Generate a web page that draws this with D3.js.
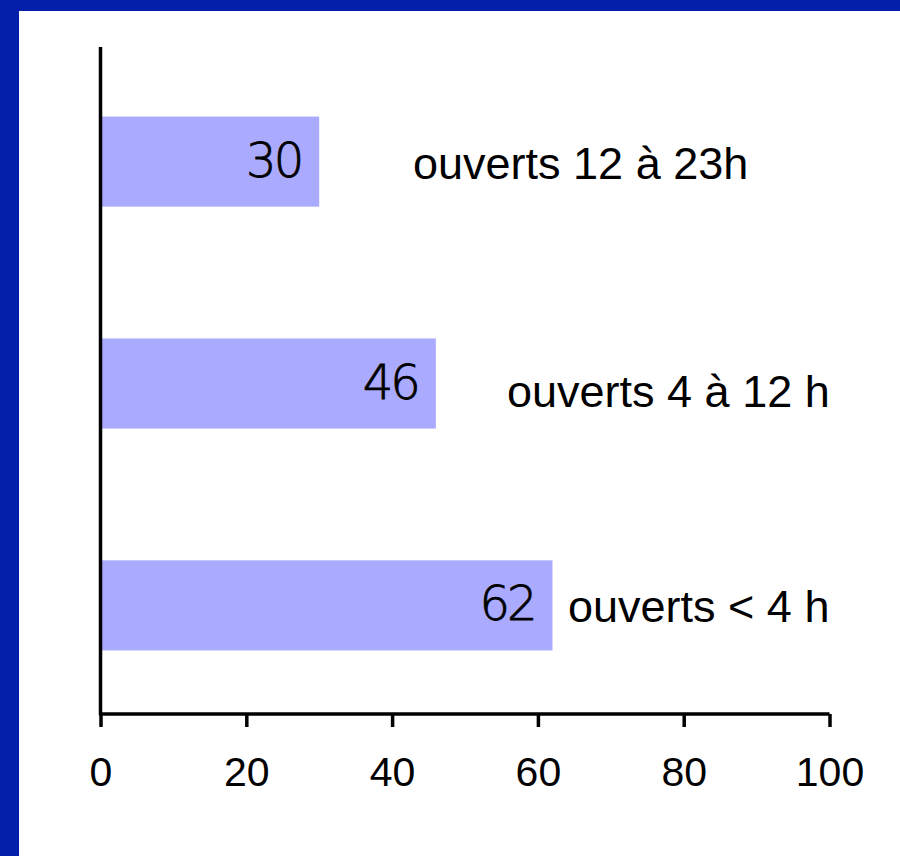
<!DOCTYPE html>
<html>
<head>
<meta charset="utf-8">
<script src="https://cdn.jsdelivr.net/npm/d3@7"></script>
<style>
  html, body { margin: 0; padding: 0; background: #ffffff; }
  #root { width: 900px; height: 856px; }
</style>
</head>
<body>
<div id="root"></div>
<script>
const categories = ['ouverts 12 à 23h', 'ouverts 4 à 12 h', 'ouverts < 4 h'];
const values = [30, 46, 62];
const tickValues = [0, 20, 40, 60, 80, 100];

const width = 900;
const height = 856;
const frameColor = '#0420aa';
const barColor = '#aaaaff';
// where each category label starts, in pixels, and its baseline offset
const labelStartX = [413, 507, 568];
const labelDy = [17, 23, 17];

const svg = d3.select('#root')
  .append('svg')
  .attr('width', width)
  .attr('height', height);

// blue frame, left and top
svg.append('rect')
  .attr('width', width)
  .attr('height', height)
  .attr('fill', frameColor);
svg.append('rect')
  .attr('x', 19)
  .attr('y', 11)
  .attr('width', width - 19)
  .attr('height', height - 11)
  .attr('fill', '#ffffff');

const x = d3.scaleLinear()
  .domain([0, 100])
  .range([100.5, 829.5]);

const y = d3.scaleBand()
  .domain(categories)
  .range([50, 717])
  .paddingInner(0.594)
  .paddingOuter(0.3);

svg.selectAll('.bar')
  .data(values)
  .enter()
  .append('rect')
  .attr('class', 'bar')
  .attr('x', x(0))
  .attr('y', (_d, i) => y(categories[i]))
  .attr('width', (d) => x(d) - x(0))
  .attr('height', y.bandwidth())
  .attr('fill', barColor);

svg.selectAll('.value')
  .data(values)
  .enter()
  .append('text')
  .attr('class', 'value')
  .attr('x', (d) => x(d) - 18)
  .attr('y', (_d, i) => y(categories[i]) + y.bandwidth() / 2 + 15)
  .attr('text-anchor', 'end')
  .attr('font-family', '"DejaVu Sans", sans-serif')
  .attr('font-weight', 200)
  .attr('font-size', '48px')
  .attr('letter-spacing', '-3px')
  .attr('fill', '#000')
  .attr('stroke', '#000')
  .attr('stroke-width', 0.8)
  .text((d) => d);

svg.selectAll('.label')
  .data(categories)
  .enter()
  .append('text')
  .attr('class', 'label')
  .attr('x', (_d, i) => labelStartX[i])
  .attr('y', (d, i) => y(d) + y.bandwidth() / 2 + labelDy[i])
  .attr('font-family', '"Liberation Sans", Arial, sans-serif')
  .attr('font-size', '45px')
  .attr('fill', '#000')
  .text((d) => d);

// axes
const xAxis = svg.append('g')
  .attr('transform', 'translate(0, 714)')
  .call(d3.axisBottom(x).tickValues(tickValues).tickSize(13).tickPadding(30).tickFormat(d3.format('d')));
xAxis.select('.domain')
  .attr('d', `M${ x(0) },0H${ x(100) }`)
  .attr('stroke', '#000')
  .attr('stroke-width', 3.5);
xAxis.selectAll('.tick line')
  .attr('stroke', '#000')
  .attr('stroke-width', 3.5);
xAxis.selectAll('.tick text')
  .attr('font-family', '"Liberation Sans", Arial, sans-serif')
  .attr('font-size', '41px')
  .attr('fill', '#000');

svg.append('line')
  .attr('x1', x(0))
  .attr('x2', x(0))
  .attr('y1', 47)
  .attr('y2', 715.5)
  .attr('stroke', '#000')
  .attr('stroke-width', 3.5);
</script>
</body>
</html>
